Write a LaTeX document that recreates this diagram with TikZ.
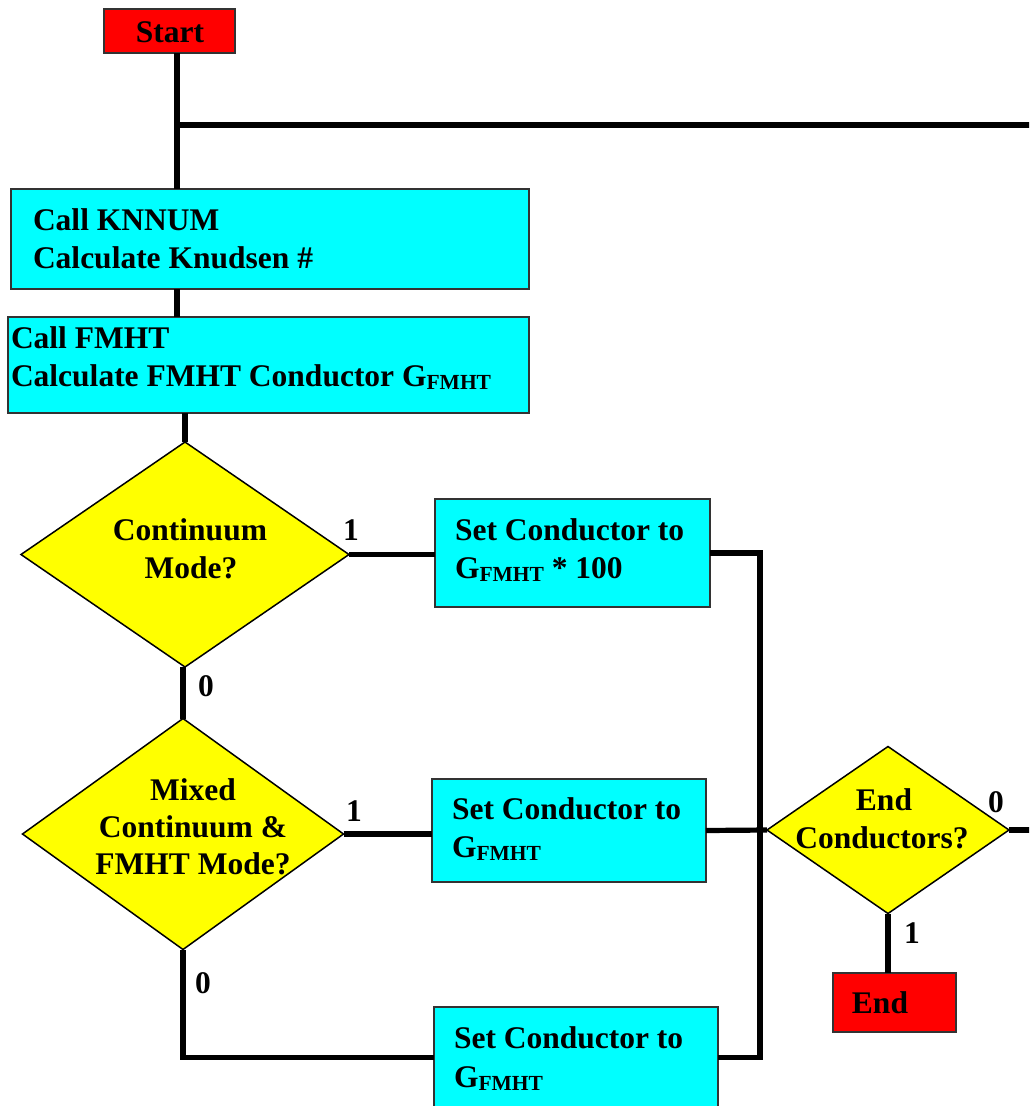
\documentclass[tikz,border=0pt]{standalone}
\usepackage{fontspec}
\setmainfont{Liberation Serif}
\usetikzlibrary{shapes.geometric}
\definecolor{boxred}{RGB}{255,0,0}
\definecolor{boxcyan}{RGB}{0,255,255}
\definecolor{boxyellow}{RGB}{255,255,0}
\newcommand{\Gf}{G\raisebox{-3pt}{\fontsize{21.5}{21.5}\selectfont FMHT}}
\tikzset{
  every node/.style={font=\fontsize{31.5}{37.5}\selectfont\bfseries, inner sep=0pt, outer sep=0pt},
  procbox/.style={rectangle, fill=boxcyan, draw=black!80, line width=1.5pt},
  termbox/.style={rectangle, fill=boxred, draw=black!80, line width=1.5pt},
  decision/.style={diamond, fill=boxyellow, draw=black, line width=1.5pt},
  conn/.style={line width=5.2pt, line join=miter},
  lt/.style={anchor=base west},
  ct/.style={anchor=base}
}
\begin{document}
\begin{tikzpicture}[x=1pt, y=-1pt]
\useasboundingbox (0,0) rectangle (1029,1106);
\fill[white] (0,0) rectangle (1029,1106);
\clip (0,0) rectangle (1029,1106);

% shapes
\node[termbox, minimum width=131pt, minimum height=44pt] (start) at (169.5,31) {};
\node[procbox, minimum width=518pt, minimum height=100pt] (knnum) at (270,239) {};
\node[procbox, minimum width=521pt, minimum height=96pt] (fmht) at (268.5,365) {};
\node[decision, minimum width=328pt, minimum height=225pt] (d1) at (185,554.5) {};
\node[procbox, minimum width=275pt, minimum height=108pt] (b3) at (572.5,553) {};
\node[decision, minimum width=321pt, minimum height=231pt] (d2) at (183,834) {};
\node[procbox, minimum width=274pt, minimum height=103pt] (b4) at (569,830.5) {};
\node[procbox, minimum width=284pt, minimum height=101pt] (b5) at (576,1057.5) {};
\node[decision, minimum width=242pt, minimum height=167pt] (d3) at (888,830) {};
\node[termbox, minimum width=123pt, minimum height=59pt] (endbox) at (894.5,1002.5) {};

% helper coordinates
\coordinate (j1) at (177,125);
\coordinate (e1) at (1035,125);
\coordinate (vx) at (760,0);
\coordinate (e3) at (1035,830);

% connectors
\draw[conn] (start.south -| j1) -- (knnum.north -| j1);
\draw[conn] (j1) -- (e1);
\draw[conn] (knnum.south -| j1) -- (fmht.north -| j1);
\draw[conn] (fmht.south -| d1.north) -- (d1.north);
\draw[conn] (d1.east) -- (d1.east -| b3.west);
\draw[conn] (d2.north |- d1.south) -- (d2.north);
\draw[conn] (d2.east) -- (d2.east -| b4.west);
\draw[conn] (d2.south) |- (b5.west);
\draw[conn] (b3.east) -- (b3.east -| vx) -- (b5.east -| vx) -- (b5.east);
\draw[conn] (b4.east) -- (d3.west);
\draw[conn] (d3.east) -- (e3);
\draw[conn] (d3.south) -- (d3.south |- endbox.north);

% texts
\node[ct] (tstart) at (170,42) {Start};
\node[lt] (tk1) at (33,230) {Call KNNUM};
\node[lt] (tk2) at (33,268) {Calculate Knudsen \#};
\node[lt] (tf1) at (11,348) {Call FMHT};
\node[lt] (tf2) at (11,386) {Calculate FMHT Conductor \Gf};
\node[ct] (td1a) at (190,540) {Continuum};
\node[ct] (td1b) at (191,578) {Mode?};
\node[lt] (tb3a) at (455,540) {Set Conductor to};
\node[lt] (tb3b) at (455,578) {\Gf{} * 100};
\node[ct] (td2a) at (193,800) {Mixed};
\node[ct] (td2b) at (193,837) {Continuum \&};
\node[ct] (td2c) at (193,874) {FMHT Mode?};
\node[lt] (tb4a) at (452,819) {Set Conductor to};
\node[lt] (tb4b) at (452,857) {\Gf};
\node[lt] (tb5a) at (454,1048) {Set Conductor to};
\node[lt] (tb5b) at (454,1087) {\Gf};
\node[ct] (td3a) at (884,810) {End};
\node[ct] (td3b) at (882,848) {Conductors?};
\node[ct] (tend) at (880,1013) {End};

% branch labels
\node[ct] (l1) at (351,540) {1};
\node[ct] (l2) at (206,696) {0};
\node[ct] (l3) at (354,821) {1};
\node[ct] (l4) at (203,993) {0};
\node[ct] (l5) at (996,812) {0};
\node[ct] (l6) at (912,943) {1};
\end{tikzpicture}
\end{document}
